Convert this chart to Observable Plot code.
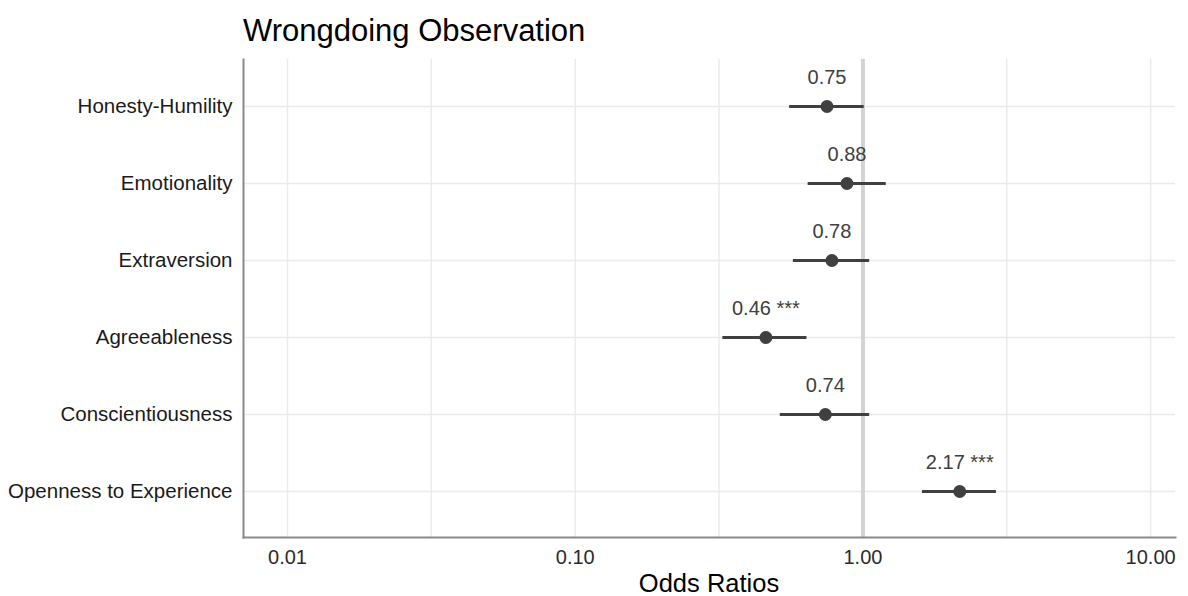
<!DOCTYPE html>
<html>
<head>
<meta charset="utf-8">
<script src="https://cdn.jsdelivr.net/npm/d3@7"></script>
<script src="https://cdn.jsdelivr.net/npm/@observablehq/plot@0.6"></script>
<style>
  html, body { margin: 0; padding: 0; background: #fff; }
  #wrap { position: relative; width: 1188px; height: 596px; font-family: "Liberation Sans", Arial, sans-serif; }
  #title { position: absolute; left: 243px; top: 15px; font-size: 31px; color: #000; line-height: 1; }
  #xtitle { position: absolute; left: 243px; width: 932px; top: 571px; text-align: center; font-size: 25.5px; color: #000; line-height: 1; }
</style>
</head>
<body>
<div id="wrap">
  <div id="title">Wrongdoing Observation</div>
  <div id="xtitle">Odds Ratios</div>
</div>
<script>
// Personality traits (top to bottom) with odds ratios and 95% intervals
const traits = ["Honesty-Humility", "Emotionality", "Extraversion", "Agreeableness", "Conscientiousness", "Openness to Experience"];
const oddsRatios = [0.75, 0.88, 0.78, 0.46, 0.74, 2.17];
const ciLow  = [0.556, 0.645, 0.573, 0.326, 0.516, 1.61];
const ciHigh = [1.01, 1.205, 1.055, 0.639, 1.055, 2.91];
const stars  = ["", "", "", "***", "", "***"];

// Axis breaks on the log scale
const xTicks = [0.01, 0.1, 1, 10];
const gridBreaks = [0.01, 0.0316, 0.1, 0.316, 1, 3.16, 10];

const rows = traits.map((t, i) => ({
  trait: t,
  or: oddsRatios[i],
  lo: ciLow[i],
  hi: ciHigh[i],
  label: d3.format(".2f")(oddsRatios[i]) + (stars[i] ? " " + stars[i] : "")
}));

const ink = "#404040";
const font = '"Liberation Sans", Arial, sans-serif';

const chart = Plot.plot({
  width: 1188,
  height: 596,
  marginTop: 59,
  marginBottom: 59,
  marginLeft: 243,
  marginRight: 13,
  style: { fontFamily: font, background: "transparent" },
  x: { type: "log", domain: [0.00703, 12.2], ticks: xTicks, tickFormat: d3.format(".2f") },
  y: { type: "point", domain: traits, padding: 0.6 },
  marks: [
    Plot.gridX(gridBreaks, { stroke: "#ebebeb", strokeOpacity: 1, strokeWidth: 1.5 }),
    Plot.gridY(traits, { stroke: "#ebebeb", strokeOpacity: 1, strokeWidth: 1.5 }),
    Plot.ruleX([1], { stroke: "#d3d3d3", strokeWidth: 4 }),
    Plot.frame({ anchor: "left", stroke: "#8a8a8a", strokeWidth: 2 }),
    Plot.frame({ anchor: "bottom", stroke: "#8a8a8a", strokeWidth: 2 }),
    Plot.ruleY(rows, { y: "trait", x1: "lo", x2: "hi", stroke: ink, strokeWidth: 3 }),
    Plot.dot(rows, { x: "or", y: "trait", r: 6.5, fill: ink, stroke: "none" }),
    Plot.text(rows, { x: "or", y: "trait", text: "label", dy: -29, fontSize: 20, fill: ink, fontFamily: font }),
    Plot.axisX({ ticks: xTicks, tickFormat: d3.format(".2f"), tickSize: 0, tickPadding: 12, fontSize: 20, color: "#2b2b2b", label: null }),
    Plot.axisY({ tickSize: 0, tickPadding: 11, fontSize: 20.5, color: "#1a1a1a", label: null })
  ]
});

document.getElementById("wrap").prepend(chart);
chart.style.position = "absolute";
chart.style.left = "0";
chart.style.top = "0";
</script>
</body>
</html>
